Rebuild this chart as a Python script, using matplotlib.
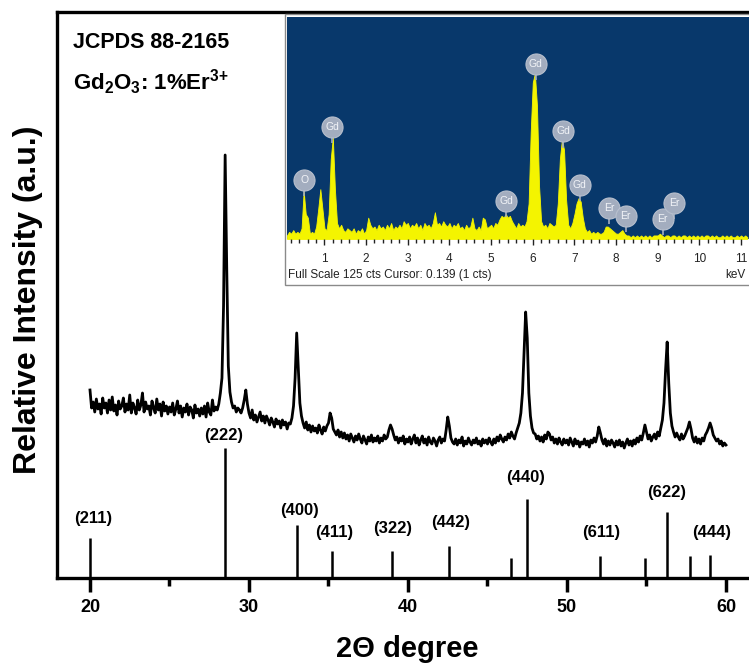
import numpy as np
import matplotlib
matplotlib.use("Agg")
import matplotlib.pyplot as plt
from matplotlib.patches import Rectangle
from matplotlib.ticker import MultipleLocator, FixedLocator

plt.rcParams['font.family'] = ['Liberation Sans', 'DejaVu Sans']
plt.rcParams['mathtext.fontset'] = 'custom'
plt.rcParams['mathtext.rm'] = 'Liberation Sans:bold'
plt.rcParams['mathtext.bf'] = 'Liberation Sans:bold'
plt.rcParams['mathtext.default'] = 'rm'

# ---------------- DATA ----------------
# Measured XRD pattern, 2theta from 20.0 to 60.0 deg, step 0.1 (relative intensity)
xrd_start, xrd_step = 20.0, 0.1
xrd_intensity = [
    188, 170, 176, 166, 179, 169, 174, 164, 180, 170,   # 20
    175, 165, 178, 168, 181, 167, 173, 163, 177, 169,   # 21
    172, 180, 166, 174, 168, 183, 165, 175, 170, 164,   # 22
    178, 168, 173, 185, 166, 176, 169, 172, 163, 177,   # 23
    170, 165, 179, 168, 174, 162, 176, 167, 172, 164,   # 24
    171, 166, 175, 163, 169, 177, 165, 172, 161, 170,   # 25
    166, 174, 163, 171, 168, 160, 173, 165, 169, 162,   # 26
    170, 164, 172, 161, 175, 166, 163, 178, 167, 171,   # 27
    168, 174, 185, 200, 272, 423, 310, 212, 186, 176,   # 28
    170, 172, 166, 170, 168, 165, 170, 178, 188, 174,   # 29
    165, 160, 168, 158, 163, 156, 161, 166, 157, 162,   # 30
    155, 162, 158, 153, 160, 156, 151, 159, 154, 157,   # 31
    150, 158, 153, 156, 149, 155, 154, 160, 172, 200,   # 32
    245, 210, 175, 162, 155, 150, 156, 148, 153, 146,   # 33
    152, 147, 150, 145, 153, 148, 144, 151, 147, 152,   # 34
    155, 165, 160, 149, 146, 143, 148, 141, 146, 140,   # 35
    145, 139, 143, 137, 144, 140, 136, 142, 138, 144,   # 36
    139, 135, 142, 138, 134, 141, 137, 143, 136, 140,   # 37
    137, 142, 135, 140, 137, 143, 139, 141, 148, 153,   # 38
    149, 143, 138, 141, 135, 140, 137, 142, 134, 139,   # 39
    136, 141, 134, 139, 143, 135, 140, 133, 138, 142,   # 40
    135, 139, 133, 141, 136, 134, 140, 137, 132, 138,   # 41
    141, 135, 139, 137, 148, 161, 152, 140, 136, 134,   # 42
    139, 133, 138, 135, 141, 132, 137, 134, 140, 136,   # 43
    133, 138, 135, 140, 134, 137, 132, 139, 135, 138,   # 44
    134, 140, 136, 133, 139, 135, 141, 137, 143, 139,   # 45
    136, 141, 138, 144, 140, 146, 142, 139, 145, 150,   # 46
    155, 165, 185, 225, 266, 240, 185, 162, 150, 145,   # 47
    144, 139, 142, 137, 141, 136, 143, 139, 146, 144,   # 48
    138, 141, 135, 139, 134, 140, 136, 133, 139, 135,   # 49
    138, 133, 140, 136, 132, 139, 134, 137, 131, 136,   # 50
    134, 139, 133, 137, 131, 138, 135, 140, 136, 142,   # 51
    151, 145, 138, 134, 139, 132, 137, 133, 138, 135,   # 52
    131, 137, 133, 138, 132, 136, 130, 135, 139, 133,   # 53
    137, 132, 138, 134, 140, 136, 142, 138, 145, 153,   # 54
    146, 139, 143, 137, 141, 144, 139, 146, 142, 150,   # 55
    158, 175, 208, 236, 195, 165, 152, 146, 141, 145,   # 56
    141, 138, 144, 139, 142, 146, 150, 156, 149, 140,   # 57
    136, 141, 135, 139, 134, 140, 137, 143, 146, 150,   # 58
    155, 150, 143, 140, 137, 139, 134, 137, 132, 135,   # 59
    133,                                                # 60
]

# JCPDS 88-2165 reference lines
ref_pos = [20.0, 28.5, 33.0, 35.2, 39.0, 42.55, 46.5, 47.5, 52.1, 54.9, 56.3, 57.75, 59.0]
ref_height = [40, 130, 53, 27, 27, 32, 20, 79, 22, 20, 66, 22, 23]

# hkl labels (x, y) positions
hkl_labels = ['(211)', '(222)', '(400)', '(411)', '(322)', '(442)', '(440)', '(611)', '(622)', '(444)']
hkl_x = [20.19, 28.43, 33.2, 35.35, 39.06, 42.7, 47.42, 52.14, 56.29, 59.12]
hkl_y = [60, 143, 67, 46, 50, 55, 101, 46, 86, 45]

# EDS spectrum (inset): energy 0.10 - 11.05 keV, step 0.05, counts
eds_start, eds_step = 0.10, 0.05
eds_counts = [
    2, 4, 3, 5, 3, 4, 3, 6, 27, 14, 12, 3, 4, 3, 7, 17, 28, 17,                 # 0.10-0.95
    6, 5, 14, 45, 57, 28, 9, 6, 8, 5, 4, 6, 5, 4, 6, 3, 5, 4, 6, 3,             # 1
    5, 12, 8, 6, 7, 5, 8, 6, 7, 5, 8, 6, 9, 5, 7, 6, 8, 6, 10, 8,               # 2
    9, 6, 8, 7, 9, 6, 8, 5, 9, 7, 8, 6, 9, 15, 8, 9, 7, 10, 8, 7,               # 3
    9, 6, 8, 7, 9, 6, 7, 5, 8, 6, 7, 12, 6, 5, 7, 5, 12, 11, 6, 7,              # 4
    8, 6, 9, 8, 11, 13, 12, 14, 12, 13, 10, 8, 6, 9, 7, 8, 7, 10, 20, 60,       # 5
    88, 93, 75, 30, 10, 7, 8, 6, 9, 8, 7, 8, 20, 45, 56, 50, 22, 8, 6, 9,       # 6
    14, 20, 23, 21, 12, 6, 4, 5, 3, 4, 3, 4, 3, 3, 4, 7, 7, 6, 5, 4,            # 7
    3, 3, 4, 5, 3, 2, 2, 1, 2, 1, 2, 1, 2, 1, 2, 1, 2, 1, 2, 2,                 # 8
    2, 3, 2, 1, 2, 2, 1, 2, 2, 1, 2, 1, 2, 2, 1, 2, 1, 2, 1, 2,                 # 9
    1, 2, 1, 2, 2, 1, 2, 1, 2, 1, 1, 2, 1, 2, 1, 2, 1, 1, 2, 1,                 # 10
    2, 1, 2, 1,                                                                 # 11
]

# Element markers on EDS spectrum
eds_elem = ['O', 'Gd', 'Gd', 'Gd', 'Gd', 'Gd', 'Er', 'Er', 'Er', 'Er']
eds_elem_x = [0.52, 1.18, 5.36, 6.07, 6.73, 7.13, 7.83, 8.23, 9.12, 9.40]
eds_elem_y = [33, 63, 21.6, 98.5, 60.4, 30.4, 17.6, 13.1, 11.3, 20.3]

# ---------------- FIGURE ----------------
W, H = 749, 664
fig = plt.figure(figsize=(W / 100, H / 100), dpi=100)


def fx(px):
    return px / W


def fy(py):
    return 1 - py / H


ax = fig.add_axes([fx(57), fy(578), 1 - fx(57), (578 - 12) / H])
ax.set_zorder(0)

two_theta = xrd_start + xrd_step * np.arange(len(xrd_intensity))
ax.plot(two_theta, xrd_intensity, color='black', lw=2.0, solid_joinstyle='round')
ax.vlines(ref_pos, 0, ref_height, color='black', lw=1.8)
for lab, x, y in zip(hkl_labels, hkl_x, hkl_y):
    ax.text(x, y, lab, ha='center', va='center', fontsize=12, fontweight='bold')

ax.set_xlim(17.925, 61.447)
ax.set_ylim(0, 566)
ax.spines['right'].set_visible(False)
for s in ['left', 'bottom', 'top']:
    ax.spines[s].set_linewidth(2.4)
ax.xaxis.set_major_locator(FixedLocator([20, 30, 40, 50, 60]))
ax.xaxis.set_minor_locator(FixedLocator([25, 35, 45, 55]))
ax.tick_params(axis='x', which='major', direction='out', length=10, width=2.5,
               labelsize=13, pad=5)
ax.tick_params(axis='x', which='minor', direction='out', length=6, width=2.5)
for t in ax.get_xticklabels():
    t.set_fontweight('bold')
ax.tick_params(axis='y', left=False, labelleft=False)

fig.text(fx(407), fy(649), '2Θ degree', ha='center', va='center',
         fontsize=21, fontweight='bold')
fig.text(fx(28), fy(300), 'Relative Intensity (a.u.)', ha='center', va='center',
         rotation=90, fontsize=23, fontweight='bold')

fig.text(fx(73), fy(48), 'JCPDS 88-2165', ha='left', va='baseline',
         fontsize=15.5, fontweight='bold')
fig.text(fx(73), fy(90), r'Gd$_2$O$_3$: 1%Er$^{3{+}}$', ha='left', va='baseline',
         fontsize=16, fontweight='bold')

# ---------------- INSET (EDS) ----------------
box = Rectangle((fx(285), fy(285)), 1.0 - fx(285) + 0.01, (285 - 14) / H,
                transform=fig.transFigure, facecolor='white', edgecolor='#8a8a8a',
                lw=1.0, zorder=1)
fig.add_artist(box)

ax2 = fig.add_axes([fx(287), fy(239), 1 - fx(287), (239 - 16.5) / H])
ax2.set_zorder(2)
ax2.set_facecolor('#08386b')
energy = eds_start + eds_step * np.arange(len(eds_counts))
ax2.fill_between(energy, 0, eds_counts, color='#f4f400', lw=0.6, edgecolor='#f4f400')
ax2.set_xlim(0.1, 11.19)
ax2.set_ylim(0, 125)
for s in ax2.spines.values():
    s.set_visible(False)
ax2.xaxis.set_major_locator(MultipleLocator(1))
ax2.xaxis.set_minor_locator(MultipleLocator(0.2))
ax2.tick_params(axis='x', which='major', direction='out', length=4, width=1.0,
                color='#222222', labelsize=8.5, labelcolor='#222222', pad=6)
ax2.tick_params(axis='x', which='minor', direction='out', length=3, width=1.0,
                color='#222222')
ax2.tick_params(axis='y', left=False, labelleft=False)

badge = '#a3adbf'
ax2.vlines(eds_elem_x, np.array(eds_elem_y) - 9, eds_elem_y, color=badge, lw=1.2, zorder=3)
ax2.scatter(eds_elem_x, eds_elem_y, s=230, color=badge, edgecolors='#b8c0ce',
            linewidths=0.8, zorder=4, clip_on=False)
for lab, x, y in zip(eds_elem, eds_elem_x, eds_elem_y):
    ax2.text(x, y, lab, ha='center', va='center', fontsize=7.5, color='#f2f4f8',
             zorder=5)

fig.text(fx(288), fy(275), 'Full Scale 125 cts Cursor: 0.139 (1 cts)', ha='left',
         va='center', fontsize=8.5, color='#222222', zorder=3)
fig.text(fx(746), fy(275), 'keV', ha='right', va='center', fontsize=8.5,
         color='#222222', zorder=3)

fig.savefig('out.png', dpi=100)
